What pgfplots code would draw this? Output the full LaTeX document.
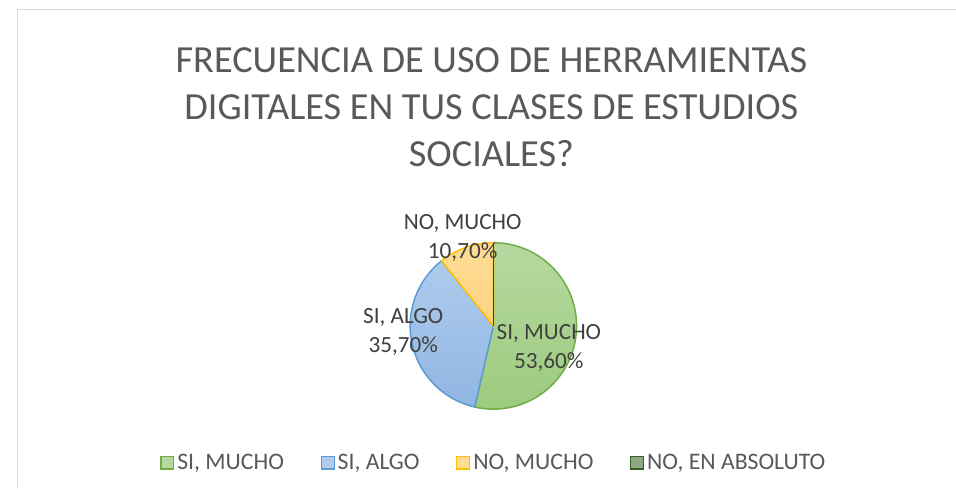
\documentclass[border=0pt]{standalone}
\usepackage{pgfplots}
\usepackage{pgfplotstable}
\pgfplotsset{compat=1.18}
\usepackage{fontspec}
\setmainfont{Carlito}
\definecolor{cTitle}{HTML}{595959}
\definecolor{cLab}{HTML}{404040}
\definecolor{cFrame}{HTML}{D9D9D9}
\definecolor{gEdge}{HTML}{70AD47}
\definecolor{gTop}{HTML}{B6D8A0}
\definecolor{gBot}{HTML}{9CCB7E}
\definecolor{bEdge}{HTML}{5B9BD5}
\definecolor{bTop}{HTML}{AECBEC}
\definecolor{bBot}{HTML}{91B6E3}
\definecolor{yEdge}{HTML}{FFC000}
\definecolor{yTop}{HTML}{FFDC96}
\definecolor{yBot}{HTML}{FFD480}
\definecolor{dEdge}{HTML}{3B5E26}
\definecolor{dFill}{HTML}{8FA884}
\definecolor{dLine}{HTML}{2E4A5E}

\pgfplotstableread{
val
53.6
35.7
10.7
0.0
}\datatable

\begin{document}
\pgfplotstablegetelem{0}{val}\of\datatable \let\va\pgfplotsretval
\pgfplotstablegetelem{1}{val}\of\datatable \let\vb\pgfplotsretval
\pgfplotstablegetelem{2}{val}\of\datatable \let\vc\pgfplotsretval
\pgfmathsetmacro{\aA}{90}
\pgfmathsetmacro{\aB}{90-3.6*\va}
\pgfmathsetmacro{\aC}{\aB-3.6*\vb}
\pgfmathsetmacro{\aD}{\aC-3.6*\vc}
\begin{tikzpicture}
\begin{axis}[
  at={(0,0)}, anchor=south west,
  width=956bp, height=494bp, scale only axis,
  xmin=0, xmax=956, ymin=0, ymax=494,
  hide axis, clip=false,
  legend style={draw=none, fill=none, at={(axis cs:490,27)}, anchor=center,
    font=\fontsize{24}{28}\selectfont, text=cTitle,
    /tikz/every even column/.append style={column sep=34bp},
    nodes={inner sep=3bp}},
  legend columns=4,
  legend image code/.code={\draw[#1, line width=1.2bp] (-1bp,-6.5bp) rectangle (12bp,6.5bp);},
]
\path[fill=white] (axis cs:0,0) rectangle (axis cs:956,494);
\draw[cFrame, line width=1.5bp] (axis cs:8.5,0) -- (axis cs:8.5,484.5) -- (axis cs:956,484.5);

\addplot[forget plot, draw=gEdge, line width=1.5bp, top color=gTop, bottom color=gBot, domain=\aB:\aA, samples=80]
  ({489+84*cos(x)},{165+84*sin(x)}) -- (axis cs:489,165) -- cycle;
\addplot[forget plot, draw=bEdge, line width=1.5bp, top color=bTop, bottom color=bBot, domain=\aC:\aB, samples=60]
  ({489+84*cos(x)},{165+84*sin(x)}) -- (axis cs:489,165) -- cycle;
\addplot[forget plot, draw=yEdge, line width=1.5bp, top color=yTop, bottom color=yBot, domain=\aD:\aC, samples=30]
  ({489+84*cos(x)},{165+84*sin(x)}) -- (axis cs:489,165) -- cycle;
\addplot[forget plot, draw=dLine, line width=1.5bp] coordinates {(489,165) (489,249)};

\addlegendimage{draw=gEdge, fill=gTop}
\addlegendentry{SI, MUCHO}
\addlegendimage{draw=bEdge, fill=bTop}
\addlegendentry{SI, ALGO}
\addlegendimage{draw=yEdge, fill=yTop}
\addlegendentry{NO, MUCHO}
\addlegendimage{draw=dEdge, fill=dFill}
\addlegendentry{NO, EN ABSOLUTO}

\node[align=center, text=cTitle, font=\fontsize{38.8}{47.5}\selectfont] at (axis cs:487,386) {FRECUENCIA DE USO DE HERRAMIENTAS\\DIGITALES EN TUS CLASES DE ESTUDIOS\\SOCIALES?};
\node[align=center, text=cLab, font=\fontsize{23.5}{29.5}\selectfont] at (axis cs:458,254) {NO, MUCHO\\10,70\%};
\node[align=center, text=cLab, font=\fontsize{23.5}{29.5}\selectfont] at (axis cs:398,158.5) {SI, ALGO\\35,70\%};
\node[align=center, text=cLab, font=\fontsize{23.5}{29.5}\selectfont] at (axis cs:545,143) {SI, MUCHO\\53,60\%};
\end{axis}
\pgfresetboundingbox
\useasboundingbox (0,0) rectangle (956bp,494bp);
\end{tikzpicture}
\end{document}
